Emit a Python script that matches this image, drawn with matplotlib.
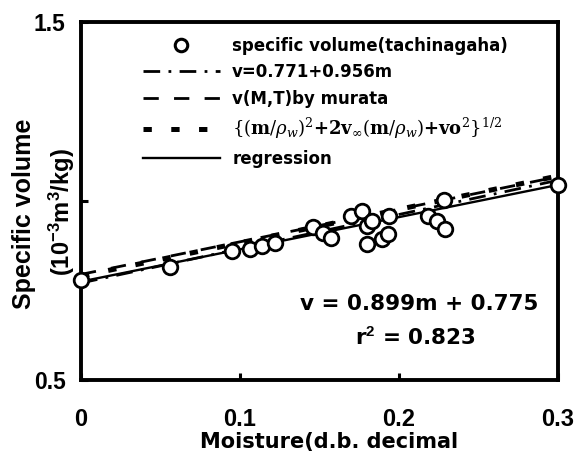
import matplotlib
matplotlib.use("Agg")
import matplotlib.pyplot as plt
from matplotlib.lines import Line2D

plt.rcParams['lines.scale_dashes'] = False
plt.rcParams['mathtext.fontset'] = 'custom'
plt.rcParams['mathtext.rm'] = 'Liberation Sans:bold'
plt.rcParams['mathtext.it'] = 'Liberation Sans:bold'
plt.rcParams['mathtext.bf'] = 'Liberation Sans:bold'

# ---------------- data ----------------
m_obs = [0.000, 0.056, 0.095, 0.106, 0.114, 0.122, 0.146, 0.152, 0.157,
         0.170, 0.177, 0.180, 0.183, 0.180, 0.189, 0.193, 0.194,
         0.218, 0.224, 0.228, 0.229, 0.300]
v_obs = [0.780, 0.817, 0.859, 0.865, 0.873, 0.884, 0.926, 0.912, 0.898,
         0.957, 0.971, 0.929, 0.943, 0.879, 0.893, 0.907, 0.957,
         0.957, 0.943, 1.004, 0.921, 1.046]

m_line = [0.0, 0.3]
v_empirical = [0.771, 1.058]   # v = 0.771 + 0.956 m
v_murata = [0.795, 1.068]
v_formula = [0.790, 1.070]
v_regression = [0.775, 1.045]  # v = 0.899 m + 0.775

legend_labels = [
    "specific volume(tachinagaha)",
    "v=0.771+0.956m",
    "v(M,T)by murata",
    r"$\{(\mathbf{m}/\rho_{w})^{2}\mathbf{+2v}_{\infty}(\mathbf{m}/\rho_{w})\mathbf{+vo}^{2}\}^{1/2}$",
    "regression",
]
x_ticks = [0.0, 0.1, 0.2, 0.3]
x_tick_labels = ["0", "0.1", "0.2", "0.3"]
y_ticks = [0.5, 1.0, 1.5]
y_tick_labels = ["0.5", "", "1.5"]
x_title = "Moisture(d.b. decimal"
y_title_1 = "Specific volume"
y_title_2 = r"(10$^{-3}$m$^{3}$/kg)"
eq_text = "v = 0.899m + 0.775"
r2_text = r"r$^{2}$ = 0.823"

# ---------------- figure ----------------
W, H = 581, 454
fig = plt.figure(figsize=(W / 100, H / 100), dpi=100)
fig.patch.set_facecolor("white")
ax = fig.add_axes([81 / W, 1 - 380 / H, (558 - 81) / W, (380 - 22) / H])
ax.set_xlim(0, 0.3)
ax.set_ylim(0.5, 1.5)

lw_dash = 2.0
ax.plot(m_line, v_empirical, color="black", lw=lw_dash,
        dashes=(12, 6, 2, 6), zorder=2)
ax.plot(m_line, v_murata, color="black", lw=lw_dash,
        dashes=(11, 11), zorder=2)
ax.plot(m_line, v_formula, color="black", lw=3.6,
        dashes=(6, 14), zorder=2)
ax.plot(m_line, v_regression, color="black", lw=1.7, zorder=2)
ax.plot(m_obs, v_obs, linestyle="none", marker="o", ms=10.5, mew=2.0,
        mfc="white", mec="black", clip_on=False, zorder=3)

for s in ax.spines.values():
    s.set_linewidth(2.8)

ax.set_xticks(x_ticks, x_tick_labels)
ax.set_yticks(y_ticks, y_tick_labels)
ax.tick_params(axis="x", direction="in", length=5, width=2.2, pad=20,
               labelsize=17)
ax.tick_params(axis="y", direction="in", length=5, width=2.2, pad=11,
               labelsize=16.5)
for t in ax.get_xticklabels() + ax.get_yticklabels():
    t.set_fontfamily("Liberation Sans")
    t.set_fontweight("bold")

# axis titles
fig.text(329 / W, 1 - 442 / H, x_title, ha="center", va="center",
         fontfamily="DejaVu Sans", fontweight="bold", fontsize=15)
fig.text(24 / W, 1 - 214 / H, y_title_1, ha="center", va="center",
         rotation=90, fontfamily="Liberation Sans", fontweight="bold",
         fontsize=18)
fig.text(62 / W, 1 - 212 / H, y_title_2, ha="center", va="center",
         rotation=90, fontfamily="Liberation Sans", fontweight="bold",
         fontsize=17)

# equation annotation
fig.text(419 / W, 1 - 304 / H, eq_text, ha="center", va="center",
         fontfamily="DejaVu Sans", fontweight="bold", fontsize=15.5)
fig.text(415 / W, 1 - 338 / H, r2_text, ha="center", va="center",
         fontfamily="DejaVu Sans", fontweight="bold", fontsize=15.5)

# legend
handles = [
    Line2D([], [], linestyle="none", marker="o", ms=9, mew=2.2,
           mfc="white", mec="black"),
    Line2D([], [], color="black", lw=2.0, dashes=(12, 6, 2, 6)),
    Line2D([], [], color="black", lw=2.0, dashes=(11, 11)),
    Line2D([], [], color="black", lw=3.6, dashes=(6, 14)),
    Line2D([], [], color="black", lw=1.7),
]
leg = ax.legend(handles, legend_labels, loc="upper left",
                bbox_to_anchor=(143 / W, 1 - 37 / H),
                bbox_transform=fig.transFigure, frameon=False,
                borderpad=0, borderaxespad=0, handlelength=4.6,
                handletextpad=0.75, labelspacing=0.5,
                prop={"family": "DejaVu Sans", "weight": "bold",
                      "size": 12})
ftxt = leg.get_texts()[3]
ftxt.set_math_fontfamily("dejavuserif")
ftxt.set_fontsize(13)

fig.savefig("out.png", dpi=100, facecolor="white")
